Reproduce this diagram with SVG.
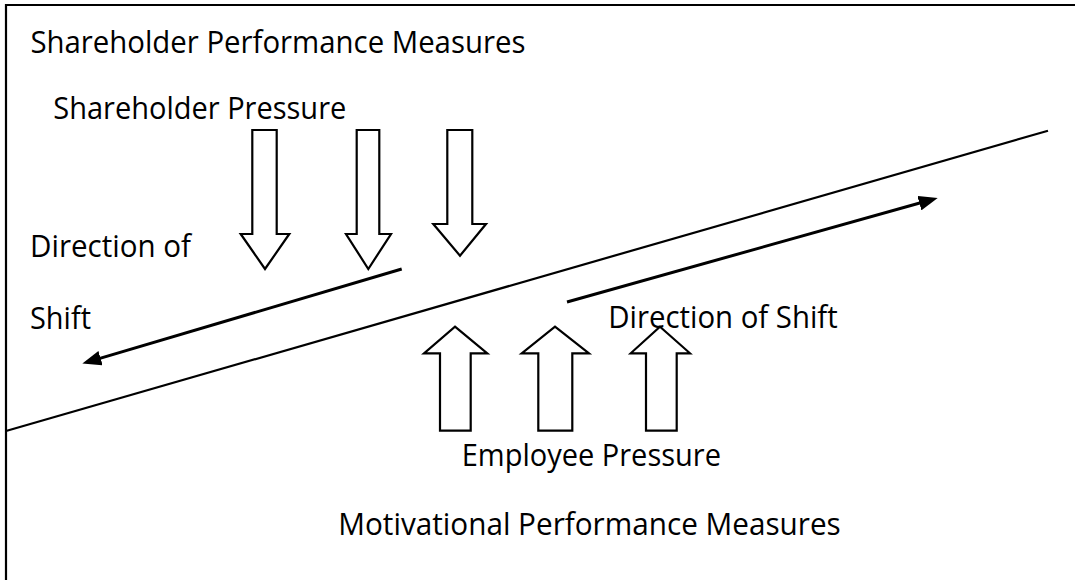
<svg xmlns="http://www.w3.org/2000/svg" width="1075" height="580" viewBox="0 0 1075 580">
  <style>
    .lbl { font-family: "Open Sans", "Noto Sans", "Liberation Sans", sans-serif; font-size: 31px; fill: #000; }
    .blk { fill: #fff; stroke: #000; stroke-width: 2.2; stroke-linejoin: miter; }
    .shift { fill: none; stroke: #000; stroke-width: 3; marker-end: url(#head); }
    .frame { fill: none; stroke: #000; stroke-width: 2.2; }
  </style>
  <defs>
    <marker id="head" viewBox="0 0 19 15" markerWidth="19" markerHeight="15" refX="6" refY="7.5" orient="auto" markerUnits="userSpaceOnUse">
      <path d="M0,0 L19,7.5 L0,15 z" fill="#000"/>
    </marker>
  </defs>
  <rect x="0" y="0" width="1075" height="580" fill="#fff"/>

  <g id="frame">
    <path class="frame" d="M6,580 V5 H1075"/>
  </g>

  <g id="divider">
    <line x1="6" y1="431" x2="1048" y2="130.7" stroke="#000" stroke-width="2.2"/>
  </g>

  <g id="shareholder-measures">
    <text class="lbl" x="30.4" y="53" textLength="495" lengthAdjust="spacingAndGlyphs">Shareholder Performance Measures</text>
  </g>

  <g id="shareholder-pressure">
    <text class="lbl" x="53.3" y="119.3" textLength="293" lengthAdjust="spacingAndGlyphs">Shareholder Pressure</text>
    <polygon class="blk" points="252.3,130 276.7,130 276.7,234 289.3,234 265,269 240.7,234 252.3,234"/>
    <polygon class="blk" points="356.7,130 379.3,130 379.3,234 391,234 368.3,269 346,234 356.7,234"/>
    <polygon class="blk" points="447.3,130 472.3,130 472.3,224 486,224 460,255.7 433.3,224 447.3,224"/>
  </g>

  <g id="employee-pressure">
    <polygon class="blk" points="455,326.7 487.3,353.3 470.7,353.3 470.7,430.7 440,430.7 440,353.3 424,353.3"/>
    <polygon class="blk" points="555,326.7 589,353.3 572.3,353.3 572.3,430.7 538.3,430.7 538.3,353.3 521.7,353.3"/>
    <polygon class="blk" points="660,326.7 690,353.3 676.7,353.3 676.7,430.7 646,430.7 646,353.3 630.7,353.3"/>
    <text class="lbl" x="461.7" y="466" textLength="259.3" lengthAdjust="spacingAndGlyphs">Employee Pressure</text>
  </g>

  <g id="direction-left">
    <text class="lbl" x="30" y="256.7" textLength="161" lengthAdjust="spacingAndGlyphs">Direction of</text>
    <text class="lbl" x="30" y="328.5" textLength="61" lengthAdjust="spacingAndGlyphs">Shift</text>
  </g>

  <g id="direction-right">
    <text class="lbl" x="608.3" y="327.7" textLength="229.4" lengthAdjust="spacingAndGlyphs">Direction of Shift</text>
  </g>

  <g id="motivational-measures">
    <text class="lbl" x="338.3" y="535" textLength="502.4" lengthAdjust="spacingAndGlyphs">Motivational Performance Measures</text>
  </g>

  <g id="connectors">
    <line class="shift" x1="401.7" y1="269" x2="94.8" y2="359.9"/>
    <line class="shift" x1="567" y1="302" x2="925.15" y2="201.54"/>
  </g>
</svg>
